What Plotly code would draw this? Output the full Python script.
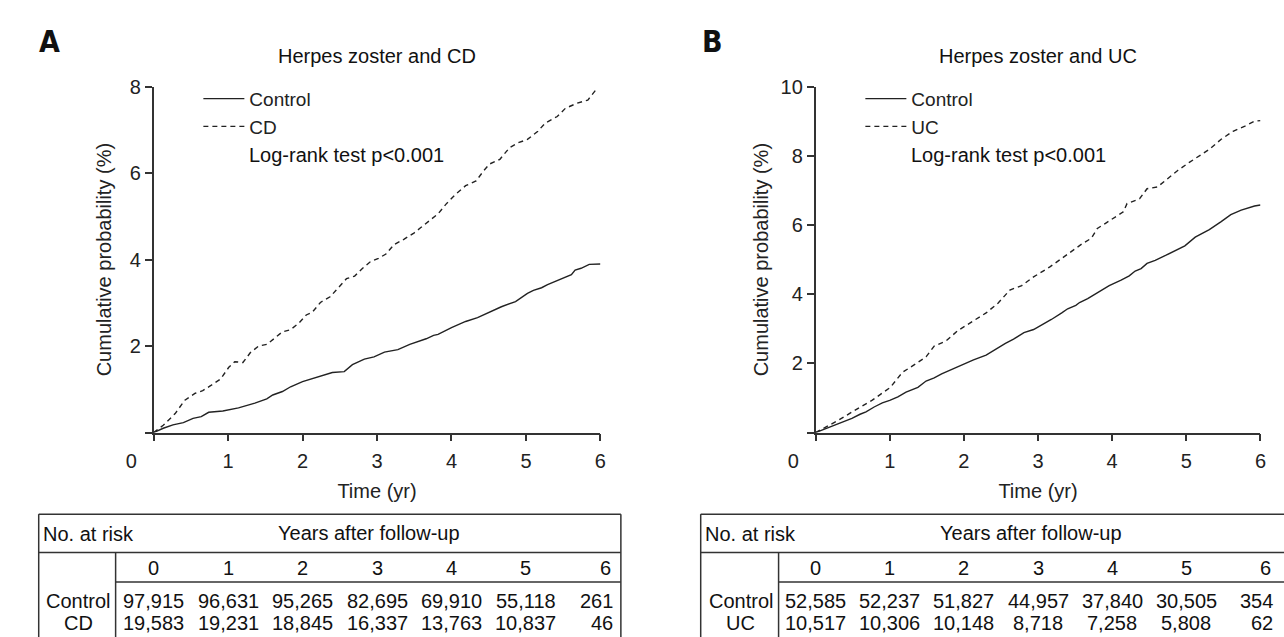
import plotly.graph_objects as go

W, H = 1284, 637
def fx(p):
    return p / W
def fy(p):
    return 1 - p / H

# ---------------- data ----------------
# Panel A: Herpes zoster and CD (cumulative probability, %)
ctrlA_t = [0, .13, .26, .4, .53, .64, .74, .93, 1.14, 1.36, 1.52, 1.6, 1.73, 1.84, 2.0, 2.16, 2.29, 2.4, 2.56,
           2.67, 2.83, 2.96, 3.1, 3.2, 3.28, 3.44, 3.66, 3.76, 3.82, 4.0, 4.19, 4.35, 4.54, 4.67, 4.86, 5.02,
           5.1, 5.21, 5.29, 5.45, 5.61, 5.66, 5.74, 5.85, 6.0]
ctrlA_p = [0, .1, .18, .23, .33, .37, .47, .5, .57, .68, .78, .87, .95, 1.06, 1.18, 1.26, 1.32, 1.39, 1.41,
           1.57, 1.7, 1.75, 1.86, 1.9, 1.92, 2.04, 2.17, 2.25, 2.27, 2.43, 2.57, 2.66, 2.8, 2.91, 3.03, 3.22,
           3.29, 3.35, 3.42, 3.54, 3.65, 3.76, 3.8, 3.89, 3.9]
cd_t = [0, .13, .29, .42, .56, .66, .77, .9, 1.01, 1.09, 1.2, 1.3, 1.41, 1.52, 1.63, 1.73, 1.84, 1.95, 2.05,
        2.13, 2.24, 2.37, 2.45, 2.59, 2.7, 2.8, 2.91, 3.02, 3.12, 3.23, 3.36, 3.5, 3.58, 3.71, 3.82, 3.93,
        4.06, 4.19, 4.33, 4.43, 4.51, 4.65, 4.78, 4.89, 5.02, 5.16, 5.26, 5.42, 5.53, 5.69, 5.83, 5.95]
cd_p = [0, .17, .44, .75, .91, .97, 1.09, 1.24, 1.51, 1.64, 1.62, 1.85, 2.0, 2.04, 2.19, 2.33, 2.38, 2.53, 2.72,
        2.78, 3.01, 3.14, 3.29, 3.56, 3.62, 3.79, 3.95, 4.03, 4.13, 4.35, 4.47, 4.62, 4.73, 4.91, 5.06, 5.29,
        5.52, 5.71, 5.82, 6.05, 6.21, 6.32, 6.59, 6.70, 6.78, 6.97, 7.16, 7.31, 7.50, 7.62, 7.69, 7.95]

# Panel B: Herpes zoster and UC
ctrlB_t = [0, .2, .36, .49, .6, .68, .79, .9, 1.0, 1.11, 1.22, 1.3, 1.38, 1.49, 1.6, 1.7, 1.87, 2.0, 2.13, 2.3,
           2.4, 2.56, 2.67, 2.81, 2.94, 3.08, 3.18, 3.32, 3.4, 3.51, 3.56, 3.67, 3.8, 3.96, 4.12, 4.23, 4.31,
           4.39, 4.47, 4.58, 4.72, 4.82, 4.98, 5.12, 5.31, 5.47, 5.6, 5.74, 5.92, 6.0]
ctrlB_p = [0, .17, .29, .41, .53, .6, .74, .86, .93, 1.03, 1.17, 1.25, 1.31, 1.49, 1.58, 1.7, 1.86, 1.98, 2.1,
           2.24, 2.38, 2.58, 2.7, 2.89, 2.98, 3.14, 3.27, 3.46, 3.58, 3.68, 3.76, 3.87, 4.05, 4.25, 4.41, 4.53,
           4.67, 4.74, 4.89, 4.98, 5.12, 5.22, 5.4, 5.65, 5.87, 6.1, 6.3, 6.43, 6.55, 6.58]
uc_t = [0, .15, .31, .58, .76, 1.01, 1.17, 1.38, 1.49, 1.6, 1.76, 1.92, 2.08, 2.3, 2.46, 2.62, 2.78, 2.94, 3.16,
        3.37, 3.59, 3.72, 3.8, 3.91, 4.04, 4.15, 4.2, 4.37, 4.47, 4.61, 4.72, 4.88, 5.04, 5.17, 5.31, 5.47,
        5.63, 5.79, 5.92, 6.0]
uc_p = [0, .17, .36, .71, .93, 1.31, 1.74, 2.03, 2.19, 2.5, 2.65, 2.95, 3.17, 3.46, 3.74, 4.12, 4.25, 4.5, 4.79,
        5.12, 5.45, 5.62, 5.9, 6.05, 6.24, 6.38, 6.62, 6.76, 7.05, 7.1, 7.29, 7.57, 7.81, 8.0, 8.19, 8.48,
        8.71, 8.86, 9.0, 9.02]

years = [0, 1, 2, 3, 4, 5, 6]
x_ticktext = ["0" + "\u00a0" * 8, "1", "2", "3", "4", "5", "6"]
yA_ticks = [0, 2, 4, 6, 8]
yA_text = ["", "2", "4", "6", "8"]
yB_ticks = [0, 2, 4, 6, 8, 10]
yB_text = ["", "2", "4", "6", "8", "10"]

risk_ctrlA = [97915, 96631, 95265, 82695, 69910, 55118, 261]
risk_cd = [19583, 19231, 18845, 16337, 13763, 10837, 46]
risk_ctrlB = [52585, 52237, 51827, 44957, 37840, 30505, 354]
risk_uc = [10517, 10306, 10148, 8718, 7258, 5808, 62]

# ---------------- styling ----------------
FONT = "Liberation Sans, Arial, sans-serif"
FS = 20
INK = "#222222"
LINE = "#333333"

fig = go.Figure()
lw = 1.4
fig.add_trace(go.Scatter(x=ctrlA_t, y=ctrlA_p, mode="lines", name="Control",
                         line=dict(color=INK, width=lw), xaxis="x", yaxis="y", legend="legend"))
fig.add_trace(go.Scatter(x=cd_t, y=cd_p, mode="lines", name="CD",
                         line=dict(color=INK, width=lw, dash="5px,4px"), xaxis="x", yaxis="y", legend="legend"))
fig.add_trace(go.Scatter(x=ctrlB_t, y=ctrlB_p, mode="lines", name="Control",
                         line=dict(color=INK, width=lw), xaxis="x2", yaxis="y2", legend="legend2"))
fig.add_trace(go.Scatter(x=uc_t, y=uc_p, mode="lines", name="UC",
                         line=dict(color=INK, width=lw, dash="5px,4px"), xaxis="x2", yaxis="y2", legend="legend2"))

axcommon = dict(showline=True, linecolor=LINE, linewidth=1.5, ticks="outside", ticklen=7,
                tickwidth=1.5, tickcolor=LINE, showgrid=False, zeroline=False,
                tickfont=dict(family=FONT, size=FS, color=INK), fixedrange=True)

A_x0, A_x1 = 129, 588
B_x0, B_x1 = 809, 1266
Y0, Y1 = 429, 77
titlefont = dict(family=FONT, size=FS, color=INK)

fig.update_layout(
    width=W, height=H, margin=dict(l=0, r=0, t=0, b=0),
    paper_bgcolor="white", plot_bgcolor="white",
    font=dict(family=FONT, size=FS, color=INK),
    xaxis=dict(domain=[fx(A_x0), fx(A_x1)], range=[0, 6], tickvals=years, ticktext=x_ticktext,
               anchor="y", ticklabelstandoff=3,
               title=dict(text="Time (yr)", standoff=13, font=titlefont), **axcommon),
    yaxis=dict(domain=[fy(Y0), fy(Y1)], range=[0, 8], tickvals=yA_ticks, ticktext=yA_text,
               anchor="x",
               title=dict(text="Cumulative probability (%)", standoff=13, font=titlefont), **axcommon),
    xaxis2=dict(domain=[fx(B_x0), fx(B_x1)], range=[0, 6], tickvals=years, ticktext=x_ticktext,
                anchor="y2", ticklabelstandoff=3,
                title=dict(text="Time (yr)", standoff=13, font=titlefont), **axcommon),
    yaxis2=dict(domain=[fy(Y0), fy(Y1)], range=[0, 10], tickvals=yB_ticks, ticktext=yB_text,
                anchor="x2",
                title=dict(text="Cumulative probability (%)", standoff=7, font=titlefont), **axcommon),
    legend=dict(x=fx(A_x0 + 46), y=fy(70), xanchor="left", yanchor="top", bgcolor="rgba(0,0,0,0)",
                font=dict(family=FONT, size=19, color=INK), itemwidth=41, tracegroupgap=0,
                itemclick=False, itemdoubleclick=False),
    legend2=dict(x=fx(B_x0 + 46), y=fy(70), xanchor="left", yanchor="top", bgcolor="rgba(0,0,0,0)",
                 font=dict(family=FONT, size=19, color=INK), itemwidth=41, tracegroupgap=0,
                 itemclick=False, itemdoubleclick=False),
    showlegend=True,
)

ann = []
def text(x, y, s, xref="paper", xanchor="center", size=FS, xshift=0, bold=False, family=FONT):
    ann.append(dict(x=x, y=y, xref=xref, yref="paper", text=("<b>%s</b>" % s) if bold else s,
                    showarrow=False, xanchor=xanchor, yanchor="middle", xshift=xshift,
                    font=dict(family=family, size=size, color="#111111")))

LETTER_FONT = "DejaVu Sans Condensed, Liberation Sans Narrow, Liberation Sans"
text(fx(22), fy(31), "A", size=30, bold=True, family=LETTER_FONT)
text(fx(703), fy(31), "B", size=30, bold=True, family=LETTER_FONT)
text(fx((A_x0 + A_x1) / 2), fy(46), "Herpes zoster and CD")
text(fx((B_x0 + B_x1) / 2), fy(46), "Herpes zoster and UC")
text(fx(A_x0 + 96), fy(147), "Log-rank test p<0.001", xanchor="left")
text(fx(B_x0 + 96), fy(147), "Log-rank test p<0.001", xanchor="left")

# number-at-risk tables
shapes = []
def hline(x0, x1, y):
    shapes.append(dict(type="line", xref="paper", yref="paper", x0=fx(x0), x1=fx(x1), y0=fy(y), y1=fy(y),
                       line=dict(color=LINE, width=1.5)))
def vline(x, y0, y1):
    shapes.append(dict(type="line", xref="paper", yref="paper", x0=fx(x), x1=fx(x), y0=fy(y0), y1=fy(y1),
                       line=dict(color=LINE, width=1.5)))

T, L1, L2, BOT = 512, 551, 581, 645
Y_HDR, Y_YR, Y_R1, Y_R2 = 532, 567, 600, 623

panels = [
    dict(left=11, sep=90, right=609, hdr_c=350, xr="x", grp="CD", r1=risk_ctrlA, r2=risk_cd),
    dict(left=691, sep=771, right=1295, hdr_c=1030, xr="x2", grp="UC", r1=risk_ctrlB, r2=risk_uc),
]
for p in panels:
    hline(p["left"], p["right"], T)
    hline(p["left"], p["right"], L1)
    hline(p["sep"], p["right"], L2)
    vline(p["left"], T, BOT)
    vline(p["right"], T, BOT)
    vline(p["sep"], L1, BOT)
    text(fx(p["left"] + 2), fy(Y_HDR), "No. at risk", xanchor="left")
    text(fx(p["hdr_c"]), fy(Y_HDR - 1), "Years after follow-up")
    cx = (p["left"] + p["sep"]) / 2 + 1
    text(fx(cx), fy(Y_R1), "Control")
    text(fx(cx), fy(Y_R2), p["grp"])
    for i, yr in enumerate(years):
        last = i == len(years) - 1
        text(yr, fy(Y_YR), str(yr), xref=p["xr"], xshift=5 if last else 0)
        text(yr, fy(Y_R1), f"{p['r1'][i]:,}", xref=p["xr"], xanchor="right" if last else "center",
             xshift=15 if last else 0)
        text(yr, fy(Y_R2), f"{p['r2'][i]:,}", xref=p["xr"], xanchor="right" if last else "center",
             xshift=15 if last else 0)

fig.update_layout(annotations=ann, shapes=shapes)
fig.write_html("out.html", config={"displayModeBar": False},
               post_script="document.body.style.margin='0px';document.body.style.overflow='hidden';")
